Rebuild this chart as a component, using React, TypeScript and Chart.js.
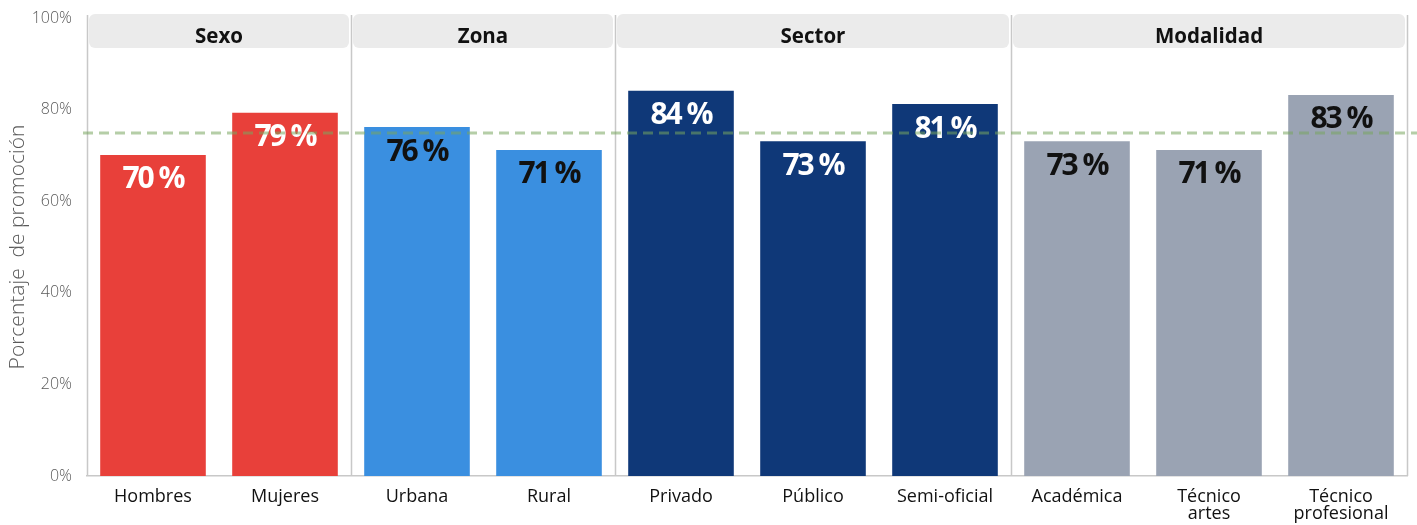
import React, { useEffect, useRef } from "react";
import { Chart, registerables } from "chart.js";

Chart.register(...registerables);

const categories = ["Hombres", "Mujeres", "Urbana", "Rural", "Privado", "Público", "Semi-oficial", "Académica", "Técnico\nartes", "Técnico\nprofesional"];
const values = [70.1, 79.3, 76.2, 71.2, 84.1, 73.1, 81.2, 73.1, 71.2, 83.2];
const valueLabels = ["70 %", "79 %", "76 %", "71 %", "84 %", "73 %", "81 %", "73 %", "71 %", "83 %"];
const groups = ["Sexo", "Zona", "Sector", "Modalidad"];
const groupSizes = [2, 2, 3, 3];
const barColors = ["#E8403A", "#E8403A", "#3A8FE0", "#3A8FE0", "#0F3878", "#0F3878", "#0F3878", "#9AA3B3", "#9AA3B3", "#9AA3B3"];
const labelColors = ["#ffffff", "#ffffff", "#111111", "#111111", "#ffffff", "#ffffff", "#ffffff", "#111111", "#111111", "#111111"];
const referenceValue = 74.9;
const yTicks = [0, 20, 40, 60, 80, 100];

const FONT = "'Open Sans', 'Noto Sans', sans-serif";

const facetPlugin = {
  id: "facets",
  beforeDatasetsDraw(chart: any) {
    const { ctx, chartArea, scales } = chart;
    const x = scales.x;
    const step = x.getPixelForValue(1) - x.getPixelForValue(0);
    const bounds: number[] = [chartArea.left];
    let idx = 0;
    groupSizes.forEach((n) => {
      idx += n;
      bounds.push(x.getPixelForValue(idx - 1) + step / 2);
    });
    const stripTop = 14;
    const stripBottom = 48;
    ctx.save();
    groups.forEach((g, i) => {
      const l = bounds[i] + 2;
      const r = bounds[i + 1] - 2;
      ctx.fillStyle = "#EBEBEB";
      ctx.beginPath();
      (ctx as any).roundRect(l, stripTop, r - l, stripBottom - stripTop, 6);
      ctx.fill();
      ctx.fillStyle = "#111111";
      ctx.font = `bold 20.5px ${FONT}`;
      ctx.textAlign = "center";
      ctx.textBaseline = "middle";
      ctx.fillText(g, (l + r) / 2, 37);
    });
    ctx.strokeStyle = "#C8C8C8";
    ctx.lineWidth = 1.5;
    bounds.forEach((b) => {
      ctx.beginPath();
      ctx.moveTo(Math.round(b) + 0.5, stripTop + 1);
      ctx.lineTo(Math.round(b) + 0.5, chartArea.bottom);
      ctx.stroke();
    });
    ctx.restore();
  },
  afterDatasetsDraw(chart: any) {
    const { ctx, scales } = chart;
    const meta = chart.getDatasetMeta(0);
    ctx.save();
    ctx.font = `bold 30px ${FONT}`;
    (ctx as any).letterSpacing = "-2px";
    ctx.textAlign = "center";
    ctx.textBaseline = "middle";
    meta.data.forEach((bar: any, i: number) => {
      ctx.fillStyle = labelColors[i];
      ctx.fillText(valueLabels[i], bar.x, bar.y + 25);
    });
    (ctx as any).letterSpacing = "0px";
    const y = scales.y.getPixelForValue(referenceValue);
    ctx.strokeStyle = "rgba(120,165,95,0.55)";
    ctx.lineWidth = 3;
    ctx.setLineDash([10, 6]);
    ctx.beginPath();
    ctx.moveTo(83, y);
    ctx.lineTo(chart.width, y);
    ctx.stroke();
    ctx.restore();
  },
};

export default function App() {
  const ref = useRef<HTMLCanvasElement>(null);
  useEffect(() => {
    document.body.style.margin = "0";
    const chart = new Chart(ref.current!, {
      type: "bar",
      data: {
        labels: categories.map((c) => c.split("\n")),
        datasets: [
          {
            data: values,
            backgroundColor: barColors,
            barPercentage: 0.8,
            categoryPercentage: 1,
          },
        ],
      },
      options: {
        animation: false,
        responsive: false,
        layout: { padding: { top: 18, right: 10, left: 0, bottom: 0 } },
        plugins: { legend: { display: false }, tooltip: { enabled: false } },
        scales: {
          x: {
            grid: { display: false, drawTicks: false },
            border: { display: true, color: "#C8C8C8", width: 1.5 },
            ticks: {
              color: "#111111",
              font: { family: FONT, size: 18, lineHeight: 0.95 },
              padding: 12,
              maxRotation: 0,
              autoSkip: false,
            },
            afterFit: (s: any) => {
              s.height = 49;
              s.paddingLeft = 0;
              s.paddingRight = 0;
            },
          },
          y: {
            min: 0,
            max: 100,
            afterBuildTicks: (s: any) => {
              s.ticks = yTicks.map((v) => ({ value: v }));
            },
            grid: { display: false, drawTicks: false },
            border: { display: false },
            ticks: {
              color: "#5A5A5A",
              font: { family: FONT, size: 16, weight: "300" },
              padding: 15,
              callback: (v: any) => `${v}%`,
            },
            title: {
              display: true,
              text: "Porcentaje  de promoción",
              color: "#5A5A5A",
              font: { family: FONT, size: 21, weight: "300" },
              padding: { top: 5, bottom: 0 },
            },
            afterFit: (s: any) => {
              s.width = 87;
              s.paddingTop = 0;
              s.paddingBottom = 0;
            },
          },
        },
      },
      plugins: [facetPlugin],
    });
    return () => chart.destroy();
  }, []);
  return (
    <div style={{ width: 1417, height: 525, overflow: "hidden" }}>
      <canvas ref={ref} width={1417} height={525} style={{ display: "block" }} />
    </div>
  );
}
